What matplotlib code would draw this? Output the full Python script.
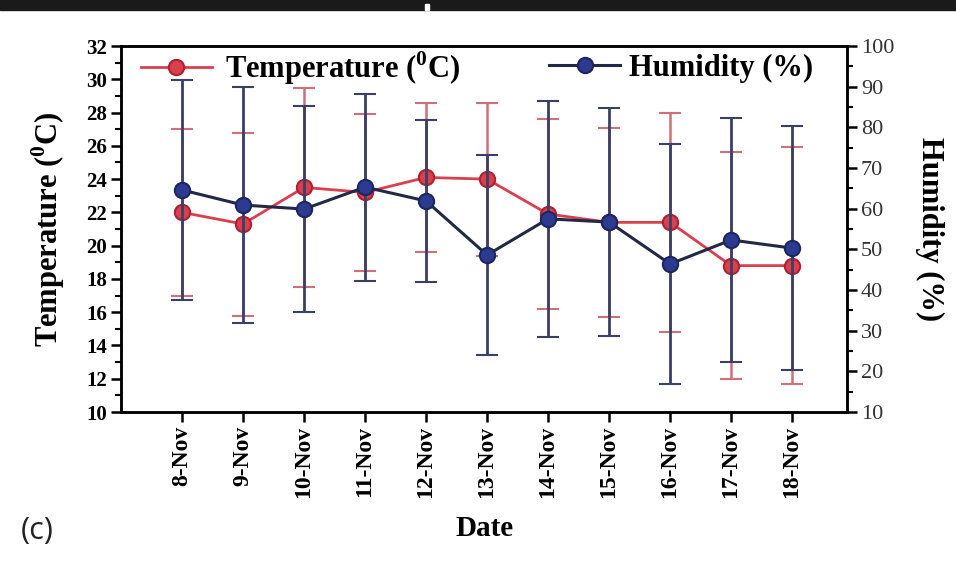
import matplotlib
matplotlib.use("Agg")
import matplotlib.pyplot as plt
import numpy as np
from matplotlib.ticker import MultipleLocator
from matplotlib.patches import Rectangle

# daily data
dates = ["8-Nov", "9-Nov", "10-Nov", "11-Nov", "12-Nov", "13-Nov",
         "14-Nov", "15-Nov", "16-Nov", "17-Nov", "18-Nov"]
temp = [22.0, 21.3, 23.5, 23.2, 24.1, 24.0, 21.9, 21.4, 21.4, 18.8, 18.8]
temp_err = [5.0, 5.5, 6.0, 4.7, 4.5, 4.6, 5.7, 5.7, 6.6, 6.8, 7.1]
hum = [64.6, 60.9, 59.9, 65.3, 61.9, 48.6, 57.5, 56.7, 46.4, 52.3, 50.3]
hum_err = [27.0, 29.0, 25.4, 23.0, 20.0, 24.6, 29.0, 28.0, 29.5, 30.0, 30.0]

plt.rcParams['font.family'] = ['Liberation Serif', 'DejaVu Serif']
plt.rcParams['mathtext.fontset'] = 'custom'
plt.rcParams['mathtext.rm'] = 'Liberation Serif'
plt.rcParams['mathtext.bf'] = 'Liberation Serif:bold'

red = '#d8404e'
red_bar = '#cf7078'
navy = '#2c3a8f'
navy_line = '#232845'
navy_bar = '#3a3f66'

fig = plt.figure(figsize=(9.56, 5.64), dpi=100)
ax = fig.add_axes([0.1266, 0.2695, 0.7594, 0.6489])
ax2 = ax.twinx()

x = np.arange(len(dates))

# temperature (left axis)
t_cont = ax.errorbar(x, temp, yerr=temp_err, color=red, ecolor=red_bar, elinewidth=1.8,
                     capsize=8, capthick=1.8, lw=2, marker='o', ms=11,
                     mfc=red, mec='#b02030', mew=1.5)
# humidity (right axis)
h_cont = ax2.errorbar(x, hum, yerr=hum_err, color=navy_line, ecolor=navy_bar, elinewidth=2,
                      capsize=8, capthick=2, lw=2.2, marker='o', ms=11,
                      mfc=navy, mec='#1c2660', mew=1.5)

ax.set_xlim(-1, 10.9)
ax.set_ylim(10, 32)
ax2.set_ylim(10, 100)

ax.set_xticks(x)
ax.set_xticklabels(dates, rotation=90, fontsize=17, fontweight='bold')
ax.yaxis.set_major_locator(MultipleLocator(2))
ax.yaxis.set_minor_locator(MultipleLocator(1))
ax2.yaxis.set_major_locator(MultipleLocator(10))
ax2.yaxis.set_minor_locator(MultipleLocator(5))

for lab in ax.get_yticklabels():
    lab.set_fontweight('bold')
    lab.set_fontsize(15)
for lab in ax2.get_yticklabels():
    lab.set_fontsize(16)
    lab.set_color('#333333')

ax.tick_params(axis='both', which='major', direction='out', length=7, width=1.8, pad=3)
ax.tick_params(axis='y', which='minor', direction='out', length=4, width=1.5)
ax2.tick_params(axis='y', which='major', direction='out', length=7, width=1.8, pad=3)
ax2.tick_params(axis='y', which='minor', direction='out', length=4, width=1.5)

for a in (ax, ax2):
    for s in a.spines.values():
        s.set_linewidth(1.8)

ax.set_ylabel('Temperature ($^\\mathbf{0}$C)', fontsize=22, fontweight='bold', labelpad=14)
ax2.set_ylabel('Humidity (%)', fontsize=22, fontweight='bold', rotation=-90, labelpad=36)
ax.set_xlabel('Date', fontsize=21, fontweight='bold', labelpad=12)

# legends with line+marker handles only
leg1 = ax2.legend([t_cont.lines[0]], ['Temperature ($^\\mathbf{0}$C)'], loc='center left',
                  bbox_to_anchor=(0.028, 0.94), frameon=False,
                  prop={'weight': 'bold', 'size': 22},
                  borderpad=0, borderaxespad=0, handlelength=2.3, handletextpad=0.45)
ax2.add_artist(leg1)
ax2.legend([h_cont.lines[0]], ['Humidity (%)'], loc='center left',
           bbox_to_anchor=(0.59, 0.94), frameon=False,
           prop={'weight': 'bold', 'size': 22},
           borderpad=0, borderaxespad=0, handlelength=2.3, handletextpad=0.3)

fig.text(0.022, 0.045, '(c)', fontsize=22, family='Open Sans', color='#222222')

# black band across the top of the image
fig.patches.append(Rectangle((0, 1 - 10 / 564), 1, 10 / 564, transform=fig.transFigure,
                             color='#1a1a1a', zorder=5))
fig.patches.append(Rectangle((425 / 956, 1 - 10 / 564), 4 / 956, 6 / 564,
                             transform=fig.transFigure, color='white', zorder=6))

fig.savefig('out.png', dpi=100)
